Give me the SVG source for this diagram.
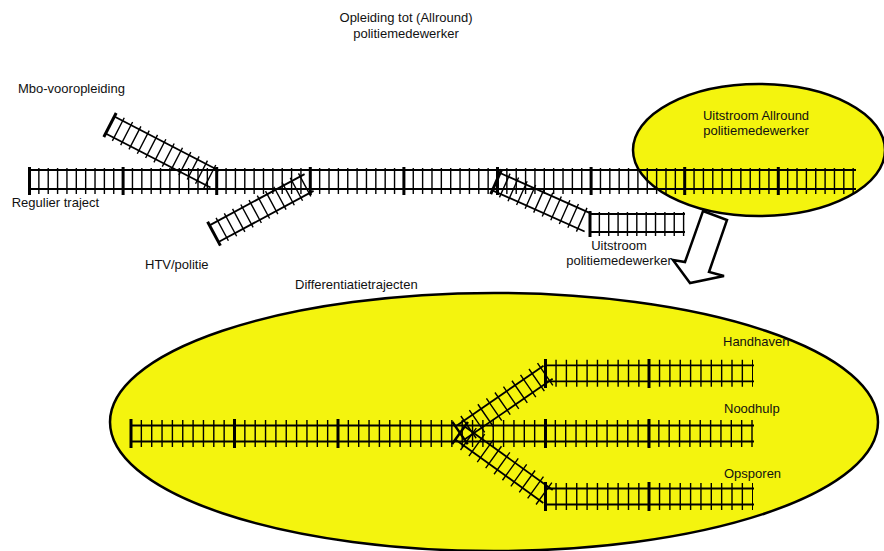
<svg xmlns="http://www.w3.org/2000/svg" width="884" height="551" viewBox="0 0 884 551">
<style>
text{font-family:"Liberation Sans",Arial,sans-serif;font-size:13px;fill:#111}
.ell{fill:#f4f40e;stroke:#000;stroke-width:2.5}
.rail{stroke:#000;stroke-width:1.8;fill:none}
.bar{stroke:#000;stroke-width:3}
.tie1{stroke:#000;stroke-width:26;stroke-dasharray:1.4 7.96;fill:none}
.tie2{stroke:#000;stroke-width:27;stroke-dasharray:1.4 8.95;fill:none}
</style>
<rect width="884" height="551" fill="#fff"/>

<g id="title"><text x="406" y="22" text-anchor="middle">Opleiding tot (Allround)</text><text x="406" y="37.5" text-anchor="middle">politiemedewerker</text></g>

<g id="ellipse-allround"><ellipse class="ell" cx="759" cy="150" rx="126" ry="66"/><text x="756" y="119.5" text-anchor="middle">Uitstroom Allround</text><text x="756" y="134.5" text-anchor="middle">politiemedewerker</text></g>

<g id="ellipse-diff"><ellipse class="ell" cx="494" cy="422" rx="384" ry="129"/></g>

<g id="connectors">
<!-- main track -->
<g id="regulier">
<line class="tie1" x1="28.8" y1="181" x2="856" y2="181"/>
<line class="rail" x1="29.5" y1="170" x2="856" y2="170"/>
<line class="rail" x1="29.5" y1="189" x2="856" y2="189"/>
<path class="bar" d="M29.5 167V195M123.1 167V195M216.7 167V195M310.3 167V195M403.9 167V195M497.5 167V195M591.1 167V195M684.7 167V195M778.3 167V195"/>
</g>
<!-- mbo branch -->
<g id="mbo-track" transform="translate(110,125) rotate(27.3)">
<line class="tie1" x1="-0.7" y1="0" x2="118" y2="0"/>
<line class="rail" x1="0" y1="-9.5" x2="118" y2="-9.5"/>
<line class="rail" x1="0" y1="9.5" x2="118" y2="9.5"/>
<line class="bar" x1="0" y1="-13.5" x2="0" y2="13.5"/>
</g>
<!-- htv branch -->
<g id="htv-track" transform="translate(214,233.7) rotate(-28.3)">
<line class="tie1" x1="-0.7" y1="0" x2="108" y2="0"/>
<line class="rail" x1="0" y1="-9.5" x2="108" y2="-9.5"/>
<line class="rail" x1="0" y1="9.5" x2="108" y2="9.5"/>
<line class="bar" x1="0" y1="-13.5" x2="0" y2="13.5"/>
</g>
<!-- uitstroom branch -->
<g id="uitstroom-diag" transform="translate(496.2,181.7) rotate(24)">
<line class="tie1" x1="-0.7" y1="0" x2="101" y2="0"/>
<line class="rail" x1="0" y1="-9.5" x2="101" y2="-9.5"/>
<line class="rail" x1="0" y1="9.5" x2="101" y2="9.5"/>
<line class="bar" x1="0" y1="-13.5" x2="0" y2="13.5"/>
</g>
<g id="uitstroom-track">
<line class="tie1" x1="589.3" y1="224" x2="685" y2="224" style="stroke-width:24"/>
<line class="rail" x1="590" y1="214" x2="685" y2="214"/>
<line class="rail" x1="590" y1="232" x2="685" y2="232"/>
<line class="bar" x1="590" y1="211" x2="590" y2="237"/>
</g>
<!-- differentiation tracks -->
<g id="diff-main">
<line class="tie2" x1="130.3" y1="433.5" x2="753" y2="433.5"/>
<line class="rail" x1="131" y1="425.5" x2="754" y2="425.5"/>
<line class="rail" x1="131" y1="441.5" x2="754" y2="441.5"/>
<path class="bar" d="M131 419V448M234.5 419V448M338 419V448M545.5 419V448M649 419V448"/>
</g>
<g id="diff-up-diag" transform="translate(460,433) rotate(-34.6)">
<line class="tie2" x1="-0.7" y1="0" x2="107" y2="0"/>
<line class="rail" x1="0" y1="-8" x2="107" y2="-8"/>
<line class="rail" x1="0" y1="8" x2="107" y2="8"/>
<line class="bar" x1="0" y1="-13.5" x2="0" y2="13.5" style="stroke-width:2.5"/>
</g>
<g id="diff-down-diag" transform="translate(460,433) rotate(35.8)">
<line class="tie2" x1="-0.7" y1="0" x2="108.5" y2="0"/>
<line class="rail" x1="0" y1="-8" x2="108.5" y2="-8"/>
<line class="rail" x1="0" y1="8" x2="108.5" y2="8"/>
<line class="bar" x1="0" y1="-13.5" x2="0" y2="13.5" style="stroke-width:2.5"/>
</g>
<g id="diff-handhaven">
<line class="tie2" x1="545" y1="373.3" x2="753" y2="373.3"/>
<line class="rail" x1="545.5" y1="365.3" x2="754" y2="365.3"/>
<line class="rail" x1="545.5" y1="381.3" x2="754" y2="381.3"/>
<path class="bar" d="M545.5 359V388M649 359V388"/>
</g>
<g id="diff-opsporen">
<line class="tie2" x1="545" y1="496.5" x2="753" y2="496.5"/>
<line class="rail" x1="545.5" y1="488.5" x2="754" y2="488.5"/>
<line class="rail" x1="545.5" y1="504.5" x2="754" y2="504.5"/>
<path class="bar" d="M545.5 482V511M649 482V511"/>
</g>
</g>

<g id="labels">
<text x="18" y="92.5">Mbo-vooropleiding</text>
<text x="11.7" y="207">Regulier traject</text>
<text x="145" y="268.5">HTV/politie</text>
<text x="619" y="249.5" text-anchor="middle">Uitstroom</text>
<text x="619" y="264.5" text-anchor="middle">politiemedewerker</text>
<text x="295" y="288.5">Differentiatietrajecten</text>
<text x="723" y="346">Handhaven</text>
<text x="724" y="412.5">Noodhulp</text>
<text x="724" y="478.3">Opsporen</text>
</g>

<g id="arrow"><polygon points="703,211 727,220 709,272 724,276 690,283 673,260 685,262" fill="#fff" stroke="#000" stroke-width="2.5" stroke-linejoin="miter"/></g>
</svg>
